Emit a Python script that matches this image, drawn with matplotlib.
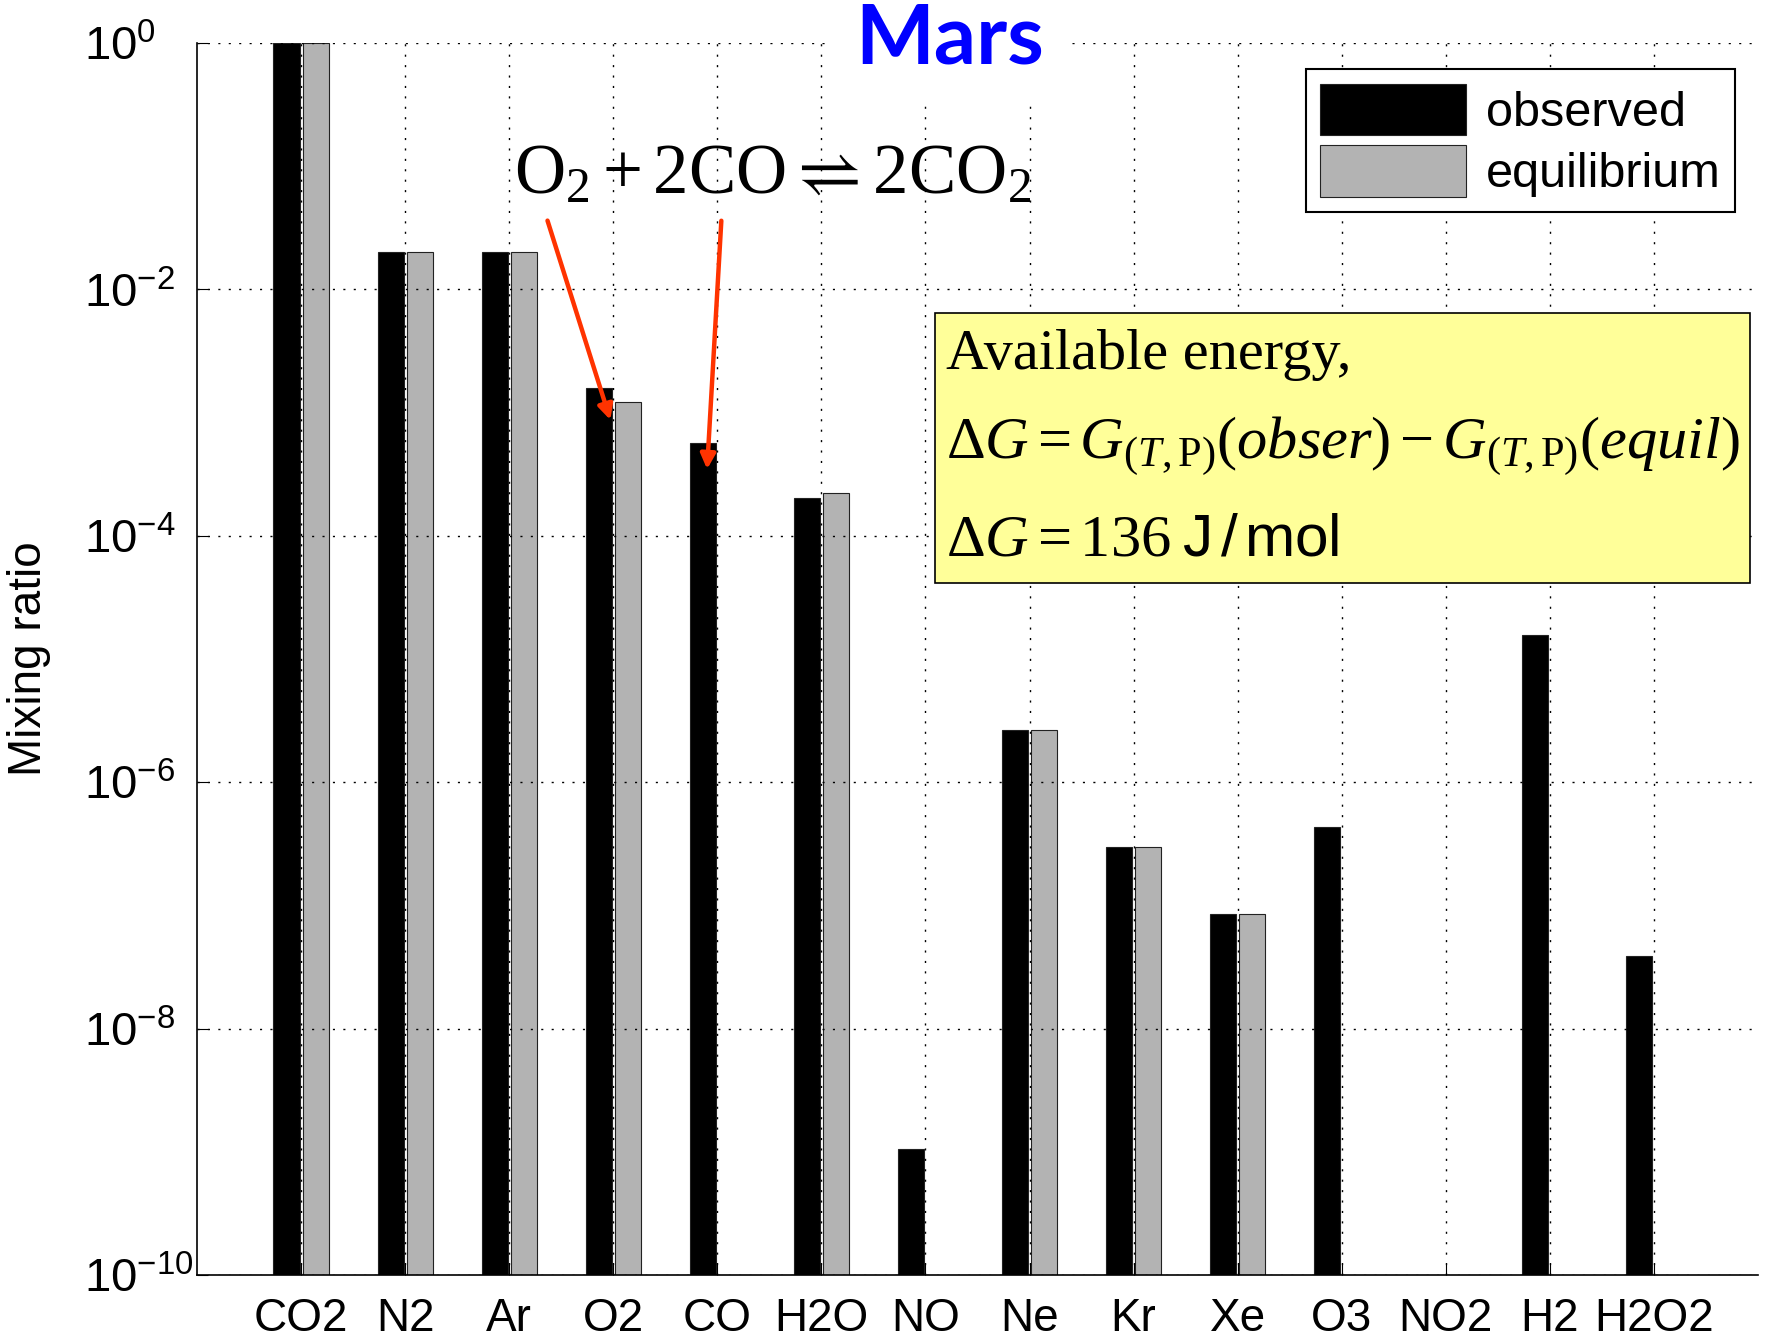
import numpy as np
import matplotlib
matplotlib.use('Agg')
import matplotlib.pyplot as plt
from matplotlib.patches import Rectangle
from matplotlib.ticker import LogFormatterMathtext

plt.rcParams['font.family'] = ['Liberation Sans', 'DejaVu Sans']
plt.rcParams['mathtext.fontset'] = 'custom'
plt.rcParams['mathtext.rm'] = 'Liberation Serif'
plt.rcParams['mathtext.it'] = 'Liberation Serif:italic'
plt.rcParams['mathtext.bf'] = 'Liberation Serif:bold'
plt.rcParams['mathtext.sf'] = 'Liberation Sans'

# gases and mixing ratios (nan = no equilibrium bar)
gases = ['CO2', 'N2', 'Ar', 'O2', 'CO', 'H2O', 'NO', 'Ne', 'Kr', 'Xe',
         'O3', 'NO2', 'H2', 'H2O2']
observed = [1.0, 2.03e-2, 2.03e-2, 1.58e-3, 5.7e-4, 2.04e-4, 1.06e-9,
            2.65e-6, 3.0e-7, 8.5e-8, 4.3e-7, np.nan, 1.56e-5, 3.9e-8]
equilibrium = [1.0, 2.03e-2, 2.03e-2, 1.22e-3, np.nan, 2.22e-4, np.nan,
               2.65e-6, 3.0e-7, 8.5e-8, np.nan, np.nan, np.nan, np.nan]
yticks = [1e-10, 1e-8, 1e-6, 1e-4, 1e-2, 1e0]

W, H = 1770, 1340
fig = plt.figure(figsize=(W / 100, H / 100), dpi=100)
ax = fig.add_axes([197 / W, 1 - 1275 / H, (1758 - 197) / W, (1275 - 43) / H])
ax.set_yscale('log')

x = np.arange(1, len(gases) + 1)
ax.bar(x - 0.14, observed, width=0.25, bottom=1e-12, color='black',
       edgecolor='#222222', linewidth=0.8, label='observed')
ax.bar(x + 0.14, equilibrium, width=0.25, bottom=1e-12, color='#b3b3b3',
       edgecolor='#222222', linewidth=0.8, label='equilibrium')

ax.set_xlim(0, 15)
ax.set_ylim(1e-10, 1)
ax.set_xticks(x)
ax.set_xticklabels(gases, fontsize=33)
ax.set_yticks(yticks)
ax.yaxis.set_major_formatter(LogFormatterMathtext())
ax.yaxis.set_minor_locator(matplotlib.ticker.NullLocator())
ax.tick_params(axis='x', direction='in', length=8, pad=16)
ax.tick_params(axis='y', direction='in', length=8, pad=81, labelsize=34)
for lab in ax.get_yticklabels():
    lab.set_horizontalalignment('left')
for s in ['top', 'right']:
    ax.spines[s].set_visible(False)
for s in ['left', 'bottom']:
    ax.spines[s].set_linewidth(1.2)
ax.grid(True, color='black', linestyle=(0, (1.5, 6)), linewidth=1.0)

ax.set_ylabel('Mixing ratio', fontsize=33)
ax.yaxis.set_label_coords((51 - 197) / (1758 - 197), 0.5)

fig.text(950 / W, 1 - 64 / H, 'Mars', family='Lato', weight='bold',
         fontsize=60, color='#0000ff', ha='center', va='baseline',
         bbox=dict(boxstyle='square,pad=0.3', facecolor='white', edgecolor='none'))

leg = ax.legend(loc='upper right', bbox_to_anchor=(1735 / W, 1 - 69 / H),
                bbox_transform=fig.transFigure, fontsize=35, handlelength=3.0,
                handleheight=1.25, handletextpad=0.4, labelspacing=0.2,
                borderpad=0.3, borderaxespad=0, fancybox=False, framealpha=1)
leg.get_frame().set_edgecolor('black')
leg.get_frame().set_linewidth(1.5)

# reaction and arrows
fig.text(773 / W, 1 - 175 / H, r'$\mathrm{O}_2 + 2\mathrm{CO} \rightleftharpoons 2\mathrm{CO}_2$',
         fontsize=51, ha='center', va='center')
red = '#ff3300'
ax.annotate('', xy=(3.98, 8.3e-4), xytext=(3.36, 0.038),
            arrowprops=dict(arrowstyle='-|>', color=red, lw=3.2, mutation_scale=22))
ax.annotate('', xy=(4.90, 3.3e-4), xytext=(5.04, 0.038),
            arrowprops=dict(arrowstyle='-|>', color=red, lw=3.2, mutation_scale=22))

# yellow energy box
fig.patches.append(Rectangle((935 / W, 1 - 583 / H), (1750 - 935) / W, (583 - 313) / H,
                             transform=fig.transFigure, facecolor='#ffff99',
                             edgecolor='black', linewidth=1.2, zorder=5))
fig.text(946 / W, 1 - 369 / H, 'Available energy,', family='Liberation Serif',
         fontsize=42, va='baseline', zorder=6)
fig.text(946 / W, 1 - 459 / H,
         r'$\Delta G = G_{(T,\mathrm{P})}(obser) - G_{(T,\mathrm{P})}(equil)$',
         fontsize=43.5, va='baseline', zorder=6)
fig.text(946 / W, 1 - 556 / H, r'$\Delta G = 136\;\mathsf{J\,/\,mol}$',
         fontsize=43.5, va='baseline', zorder=6)

fig.savefig('out.png', dpi=100)
